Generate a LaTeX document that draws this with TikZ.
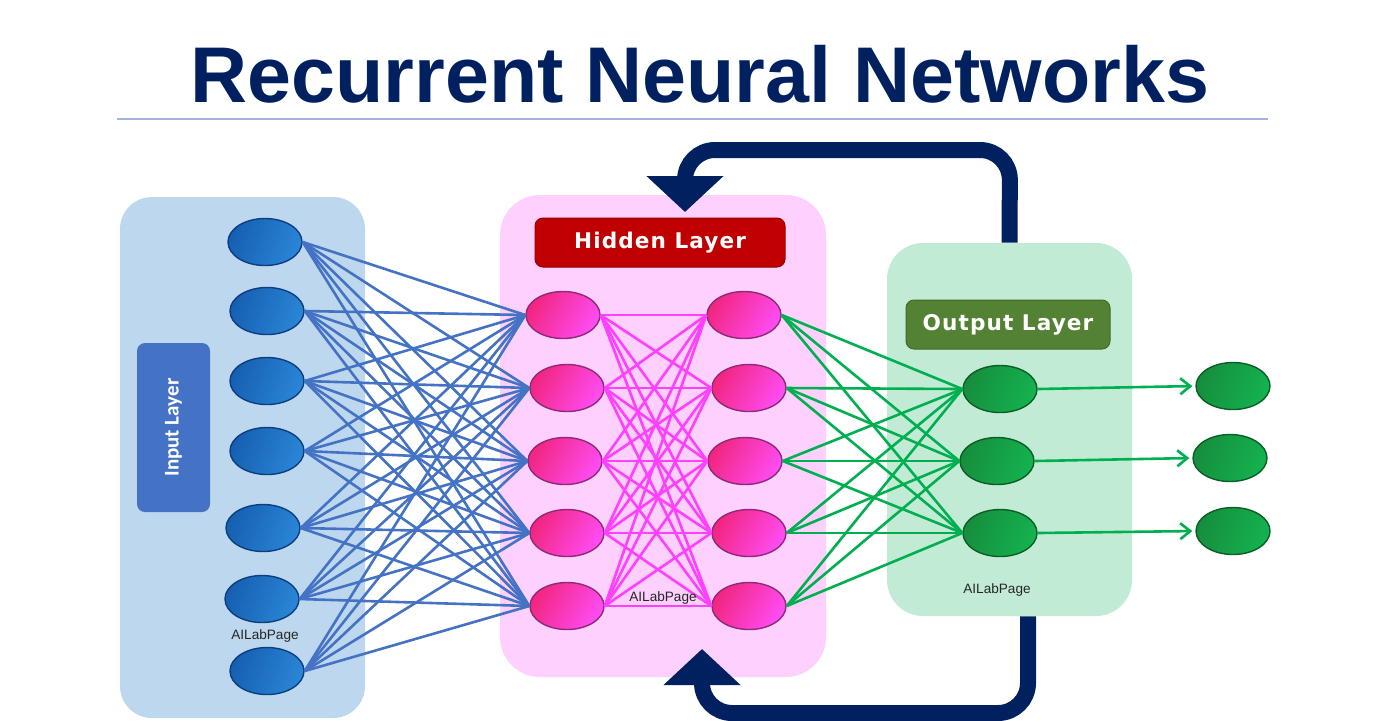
\documentclass[tikz,border=0pt]{standalone}
\usepackage{fontspec}
\setmainfont{Liberation Sans}
\newfontfamily\calfont{Carlito}
\newfontfamily\tagfont[LetterSpace=5]{DejaVu Sans}
\usetikzlibrary{shapes.geometric,arrows.meta}
\definecolor{navy}{HTML}{002060}
\definecolor{rulecol}{HTML}{A3B5DE}
\definecolor{inbg}{HTML}{BDD7EE}
\definecolor{hidbg}{HTML}{FDD0FD}
\definecolor{outbg}{HTML}{C2EBD6}
\definecolor{inblue}{HTML}{4472C4}
\definecolor{hidred}{HTML}{C00000}
\definecolor{outtag}{HTML}{548235}
\definecolor{wirepink}{HTML}{FF40FF}
\definecolor{wiregreen}{HTML}{00B050}
\definecolor{inA}{HTML}{1660B2}
\definecolor{inB}{HTML}{2A85D6}
\definecolor{inrim}{HTML}{0D3F7E}
\definecolor{pkA}{HTML}{F22680}
\definecolor{pkB}{HTML}{FF4CF4}
\definecolor{pkrim}{HTML}{8E2A78}
\definecolor{grA}{HTML}{168E3D}
\definecolor{grB}{HTML}{14B24F}
\definecolor{grrim}{HTML}{0B5E25}
\begin{document}
\begin{tikzpicture}[x=0.5pt,y=-0.5pt,
  panel/.style={rectangle, rounded corners=#1, inner sep=0pt},
  panel/.default=16pt,
  tag/.style={rectangle, rounded corners=4pt, inner sep=0pt, text=white, line width=0.5pt},
  neuron/.style={ellipse, inner sep=0pt, minimum width=37pt, minimum height=23.5pt, line width=0.7pt},
  inneur/.style={neuron, draw=inrim, left color=inA, right color=inB, shading angle=70},
  hidneur/.style={neuron, draw=pkrim, left color=pkA, right color=pkB, shading angle=60},
  outneur/.style={neuron, draw=grrim, left color=grA, right color=grB, shading angle=70},
  wire/.style={line width=1.3pt},
  feedback/.style={draw=navy, line width=8pt, rounded corners=15pt, -{Triangle[length=18pt,width=37.5pt]}},
  credit/.style={font=\fontsize{6.8}{8}\selectfont, text=black!85, inner sep=0pt}]
\useasboundingbox (0,0) rectangle (1400,720);

% title
\node[font=\bfseries\fontsize{39.5}{44}\selectfont, text=navy, anchor=base] (title) at (700,102) {Recurrent Neural Networks};
\draw[rulecol, line width=0.6pt] (117,119) -- (1268,119);

% panels
\node[panel, fill=inbg, minimum width=122.5pt, minimum height=260.5pt] (inp) at (242.5,457.5) {};
\node[panel=20pt, fill=hidbg, minimum width=163pt, minimum height=241pt] (hidp) at (663,436) {};
\node[panel=18pt, fill=outbg, minimum width=122.5pt, minimum height=186.5pt] (outp) at (1009.5,429.5) {};

% feedback loops
\coordinate (topin) at (685,212);
\coordinate (botin) at (702,649);
\draw[feedback] (outp.north) -- (1010,150) -- (685,150) -- (topin);
\draw[feedback] ([xshift=9.25pt]outp.south) -- (1028,713) -- (702,713) -- (botin);

% layer tags
\node[tag, fill=inblue, rotate=90, minimum width=84.5pt, minimum height=36.5pt,
  font=\calfont\bfseries\fontsize{10.5}{12}\selectfont] (intag) at (173.5,427.5) {Input Layer};
\node[tag, fill=hidred, draw=hidred!80!black, minimum width=125pt, minimum height=24.5pt,
  font=\tagfont\bfseries\fontsize{10.8}{12}\selectfont] (hidtag) at (660,242.5) {Hidden Layer};
\node[tag, fill=outtag, draw=outtag!80!black, minimum width=102pt, minimum height=24.5pt,
  font=\tagfont\bfseries\fontsize{10.8}{12}\selectfont] (outtag) at (1008,324.5) {Output Layer};

% input layer
\node[inneur] (i1) at (265,242) {};
\node[inneur] (i2) at (267,311) {};
\node[inneur] (i3) at (267,381) {};
\node[inneur] (i4) at (267,451) {};
\node[inneur] (i5) at (263,528) {};
\node[inneur] (i6) at (262,599) {};
\node[inneur] (i7) at (267,671) {};

% hidden layer
\node[hidneur] (hl1) at (563,315) {};
\node[hidneur] (hl2) at (567,388) {};
\node[hidneur] (hl3) at (565,461) {};
\node[hidneur] (hl4) at (567,533) {};
\node[hidneur] (hl5) at (567,606) {};
\node[hidneur] (hr1) at (744,315) {};
\node[hidneur] (hr2) at (749,388) {};
\node[hidneur] (hr3) at (745,461) {};
\node[hidneur] (hr4) at (749,533) {};
\node[hidneur] (hr5) at (749,606) {};

% output layer
\node[outneur] (o1) at (1000,389) {};
\node[outneur] (o2) at (997,461) {};
\node[outneur] (o3) at (1000,533) {};
\node[outneur] (y1) at (1233,386) {};
\node[outneur] (y2) at (1230,458) {};
\node[outneur] (y3) at (1233,531) {};

% weights
\foreach \a in {1,...,7}
  \foreach \b in {1,...,5}
    \draw[wire, inblue] (i\a.east) -- (hl\b.west);
\foreach \a in {1,...,5}
  \foreach \b in {1,...,5}
    \draw[wire, wirepink] (hl\a.east) -- (hr\b.west);
\foreach \a in {1,...,5}
  \foreach \b in {1,2,3}
    \draw[wire, wiregreen] (hr\a.east) -- (o\b.west);
\foreach \a in {1,2,3}
  \draw[wire, wiregreen, -{Straight Barb[length=5pt,width=8pt]}, shorten >=1.5pt] (o\a.east) -- (y\a.west);

\node[credit] (cin) at (265,636) {AILabPage};
\node[credit] (chid) at (663,598) {AILabPage};
\node[credit] (cout) at (997,590) {AILabPage};
\end{tikzpicture}
\end{document}
